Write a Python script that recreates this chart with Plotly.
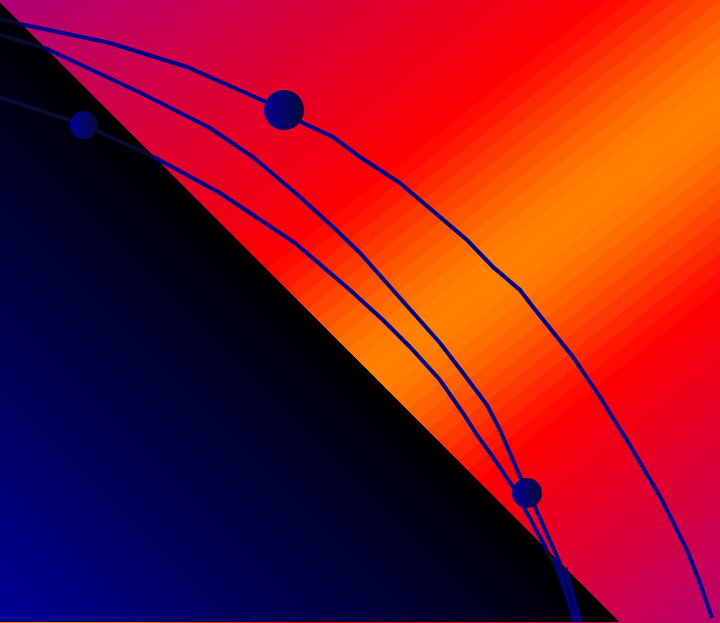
import plotly.graph_objects as go

# ---- background gradient (corner values of a diagonal ramp) ----
bg_x = [0, 720]
bg_y = [0, 623]
bg_z = [[0, 569], [623, 1192]]
bg_zmax = 1192
band_center = 668
band_step = 18
band_greens = [128, 126, 118, 108, 96, 83, 69, 54, 39, 24, 10]
purple_tl = (175, 0, 120)
purple_br = (185, 0, 110)

# ---- dark triangle (ramp of y - x, visible where above the edge offset) ----
tri_x = [0, 720]
tri_y = [0, 621, 623]
tri_z = [[0, -720], [621, -99], [-2000, -2000]]
tri_edge = 3
tri_zmin = -2000
tri_zmax = 621
tri_blue = (0, 0, 150)

# ---- curves ----
curve_a_x = [0, 20, 110, 187, 263, 284, 303, 333, 360, 400, 440, 467, 493, 520, 533, 573, 600, 631, 662, 687, 700, 712]
curve_a_y = [19, 24, 43, 67, 100, 110, 123, 137, 157, 183, 217, 240, 267, 290, 307, 357, 397, 447, 500, 550, 583, 618]
curve_b_x = [0, 45, 70, 143, 210, 253, 300, 333, 360, 387, 413, 440, 463, 487, 500, 510, 520, 527, 535, 547, 560, 572, 580]
curve_b_y = [35, 48, 60, 94, 128, 157, 197, 227, 253, 283, 313, 343, 373, 405, 430, 453, 477, 493, 507, 533, 563, 593, 622]
curve_c_x = [0, 84, 150, 220, 295, 350, 383, 410, 440, 463, 477, 490, 513, 527, 540, 555, 565, 575]
curve_c_y = [97, 125, 155, 193, 243, 290, 320, 347, 380, 413, 435, 453, 487, 512, 537, 565, 590, 622]

# ---- spheres ----
sphere_x = [284, 527, 84]
sphere_y = [110, 493, 125]
sphere_size = [40, 30, 28]


def rgb(c):
    return "rgb(%d,%d,%d)" % c


# background colourscale
stops = []
n = len(band_greens)
lo_edge = band_center - band_step * (n - 0.5)
hi_edge = band_center + band_step * (n - 0.5)
stops.append((0, rgb(purple_tl)))
stops.append((lo_edge, rgb((255, 0, 0))))
for k in range(n - 1, 0, -1):
    c = rgb((255, band_greens[k], 0))
    stops.append((band_center - band_step * (k + 0.5), c))
    stops.append((band_center - band_step * (k - 0.5), c))
c0 = rgb((255, band_greens[0], 0))
stops.append((band_center - band_step * 0.5, c0))
stops.append((band_center + band_step * 0.5, c0))
for k in range(1, n):
    c = rgb((255, band_greens[k], 0))
    stops.append((band_center + band_step * (k - 0.5), c))
    stops.append((band_center + band_step * (k + 0.5), c))
stops.append((hi_edge, rgb((255, 0, 0))))
stops.append((bg_zmax, rgb(purple_br)))
colorscale = [[s / bg_zmax, c] for s, c in stops]

# triangle colourscale: transparent outside, black at the edge to blue in the corner
span = tri_zmax - tri_zmin
tri_scale = [[0, "rgba(0,0,0,0)"],
             [(tri_edge - 0.01 - tri_zmin) / span, "rgba(0,0,0,0)"],
             [(tri_edge - tri_zmin) / span, "rgba(0,0,0,1)"],
             [1, "rgba(%d,%d,%d,1)" % tri_blue]]


def split_inside(xs, ys):
    """Split a polyline into the parts outside and inside the dark triangle."""
    def inside(x, y):
        return (y - x) > tri_edge and y <= tri_y[1]
    out_x, out_y, in_x, in_y = [], [], [], []
    for i in range(len(xs)):
        x, y = xs[i], ys[i]
        if i > 0:
            px, py = xs[i - 1], ys[i - 1]
            if inside(px, py) != inside(x, y):
                f0 = (py - px) - tri_edge
                f1 = (y - x) - tri_edge
                t = f0 / (f0 - f1) if f0 != f1 else 0.5
                cx, cy = px + t * (x - px), py + t * (y - py)
                out_x.append(cx); out_y.append(cy)
                in_x.append(cx); in_y.append(cy)
                if inside(x, y):
                    out_x.append(None); out_y.append(None)
                else:
                    in_x.append(None); in_y.append(None)
        if inside(x, y):
            in_x.append(x); in_y.append(y)
        else:
            out_x.append(x); out_y.append(y)
    return out_x, out_y, in_x, in_y


fig = go.Figure()
fig.add_trace(go.Heatmap(x=bg_x, y=bg_y, z=bg_z, zmin=0, zmax=bg_zmax,
                         colorscale=colorscale, zsmooth="best",
                         showscale=False, hoverinfo="skip"))
fig.add_trace(go.Heatmap(x=tri_x, y=tri_y, z=tri_z, zmin=tri_zmin, zmax=tri_zmax,
                         colorscale=tri_scale, zsmooth="best",
                         showscale=False, hoverinfo="skip"))

line_color = "rgb(0,0,139)"
line_dim = "rgba(14,14,70,0.7)"
for cx, cy in [(curve_a_x, curve_a_y), (curve_b_x, curve_b_y), (curve_c_x, curve_c_y)]:
    ox, oy, ix, iy = split_inside(cx, cy)
    if ix:
        fig.add_trace(go.Scatter(x=ix, y=iy, mode="lines",
                                 line=dict(color=line_dim, width=4),
                                 hoverinfo="skip"))
    fig.add_trace(go.Scatter(x=ox, y=oy, mode="lines",
                             line=dict(color=line_color, width=4),
                             hoverinfo="skip"))

fig.add_trace(go.Scatter(x=sphere_x, y=sphere_y, mode="markers",
                         marker=dict(size=sphere_size, color="rgb(0,0,150)", opacity=1,
                                     line=dict(width=0),
                                     gradient=dict(type="horizontal", color="rgb(8,8,60)")),
                         hoverinfo="skip"))

fig.update_layout(width=720, height=623, margin=dict(l=0, r=0, t=0, b=0),
                  showlegend=False, paper_bgcolor="black", plot_bgcolor="black")
fig.update_xaxes(range=[0, 720], visible=False, showgrid=False, zeroline=False)
fig.update_yaxes(range=[623, 0], visible=False, showgrid=False, zeroline=False)

fig.write_html("out.html", config={"displayModeBar": False},
               post_script="document.body.style.margin='0';document.body.style.overflow='hidden';")
